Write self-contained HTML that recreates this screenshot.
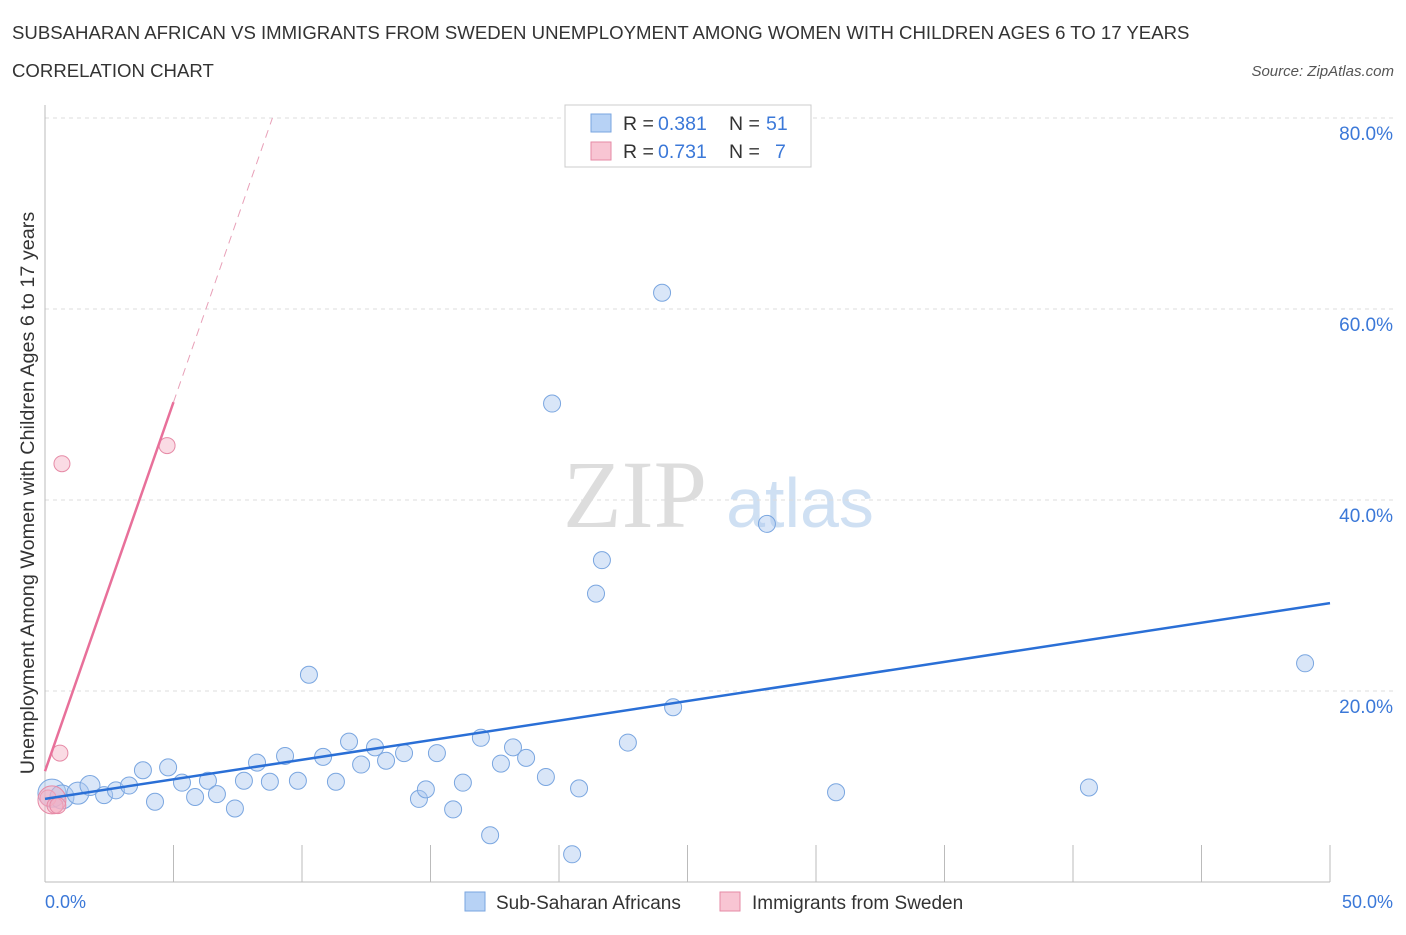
<!DOCTYPE html>
<html><head><meta charset="utf-8"><style>
body{margin:0;background:#fff;font-family:"Liberation Sans",sans-serif;}
</style></head><body>
<svg width="1406" height="930" xmlns="http://www.w3.org/2000/svg">
<text x="12" y="39" font-size="18.6" fill="#333">SUBSAHARAN AFRICAN VS IMMIGRANTS FROM SWEDEN UNEMPLOYMENT AMONG WOMEN WITH CHILDREN AGES 6 TO 17 YEARS</text>
<text x="12" y="77" font-size="18.6" fill="#333">CORRELATION CHART</text>
<text x="1394" y="76" font-size="15" fill="#555" font-style="italic" text-anchor="end">Source: ZipAtlas.com</text>
<text x="635" y="527" font-size="96" fill="#ddd" font-family="Liberation Serif,serif" text-anchor="middle">ZIP</text>
<text x="800" y="527" font-size="70" fill="#cfe0f3" text-anchor="middle">atlas</text>
<g id="grid"></g>
<g id="axes"></g>
<g id="marks"></g>
<text transform="translate(34,493) rotate(-90)" font-size="19.8" fill="#333" text-anchor="middle">Unemployment Among Women with Children Ages 6 to 17 years</text>
<text x="45" y="908" font-size="18" fill="#3b78d8">0.0%</text>
<text x="1393" y="908" font-size="18" fill="#3b78d8" text-anchor="end">50.0%</text>
<g>
<rect x="565" y="105" width="246" height="62" fill="#fff" stroke="#ccc"/>
<rect x="591" y="114" width="20" height="18" fill="#b7d2f5" stroke="#7aa6e0"/>
<text x="623" y="130" font-size="19.5" fill="#333">R = </text><text x="658" y="130" font-size="19.5" fill="#3b78d8">0.381</text>
<text x="729" y="130" font-size="19.5" fill="#333">N = </text><text x="766" y="130" font-size="19.5" fill="#3b78d8">51</text>
<rect x="591" y="142" width="20" height="18" fill="#f8c5d3" stroke="#e68aa6"/>
<text x="623" y="158" font-size="19.5" fill="#333">R = </text><text x="658" y="158" font-size="19.5" fill="#3b78d8">0.731</text>
<text x="729" y="158" font-size="19.5" fill="#333">N = </text><text x="775" y="158" font-size="19.5" fill="#3b78d8">7</text>
</g>
<g>
<rect x="465" y="892" width="20" height="19" fill="#b7d2f5" stroke="#7aa6e0"/>
<text x="496" y="909" font-size="19" fill="#333">Sub-Saharan Africans</text>
<rect x="720" y="892" width="20" height="19" fill="#f8c5d3" stroke="#e68aa6"/>
<text x="752" y="909" font-size="19" fill="#333">Immigrants from Sweden</text>
</g>
</svg>
<script>
const yTicks=[20,40,60,80];
const blueX=[0.27,0.66,1.28,1.75,2.30,2.76,3.27,3.81,4.28,4.79,5.33,5.84,6.34,6.69,7.39,7.74,8.25,8.75,9.34,9.84,10.27,10.82,11.32,11.83,12.30,12.84,13.27,13.97,14.55,14.82,15.25,15.88,16.26,16.96,17.32,17.74,18.21,18.72,19.49,19.73,20.51,20.78,21.44,21.67,22.68,24.01,24.44,28.09,30.78,40.62,49.03];
const blueY=[9.3,8.9,9.3,10.1,9.1,9.6,10.1,11.7,8.4,12.0,10.4,8.9,10.6,9.2,7.7,10.6,12.5,10.5,13.2,10.6,21.7,13.1,10.5,14.7,12.3,14.1,12.7,13.5,8.7,9.7,13.5,7.6,10.4,15.1,4.9,12.4,14.1,13.0,11.0,50.1,2.9,9.8,30.2,33.7,14.6,61.7,18.3,37.5,9.4,9.9,22.9];
const pinkX=[0.12,0.27,0.39,0.5,0.66,0.58,4.75];
const pinkY=[8.8,8.6,8.0,8.0,43.8,13.5,45.7];
const blueTrend=[8.7,0.41];
const pinkTrend=[11.6,7.73];
const X=v=>45+v*25.7, Y=v=>882-v*9.55;
const NS="http://www.w3.org/2000/svg";
function mk(p,t,a){const e=document.createElementNS(NS,t);for(const k in a)e.setAttribute(k,a[k]);p.appendChild(e);return e;}
const grid=document.getElementById('grid'),axes=document.getElementById('axes'),marks=document.getElementById('marks');
yTicks.forEach(t=>{
 const l=mk(grid,'line',{x1:45,x2:1395,y1:Y(t),y2:Y(t),stroke:'#ddd','stroke-dasharray':'4,4'});
 
 
 const tx=mk(grid,'text',{x:1393,y:Y(t)+22,'font-size':19,fill:'#3b78d8','text-anchor':'end'});
 tx.textContent=t.toFixed(1)+'%';
 
 
});
mk(axes,'line',{x1:45,x2:45,y1:105,y2:882,stroke:'#bbb'});
mk(axes,'line',{x1:45,x2:1330,y1:882,y2:882,stroke:'#bbb'});
for(let i=0;i<=10;i++){const t=mk(axes,'line',{x1:X(i*5),x2:X(i*5),y1:845,y2:882,stroke:'#bbb'});
 
 }
blueX.forEach((x,i)=>{const r=i==0?14:i==1?12:i==2?11:i==3?10:8.5;
 const c=mk(marks,'circle',{cx:X(x),cy:Y(blueY[i]),r:r,fill:'rgba(170,200,240,0.45)',stroke:'#7aa6e0'});
 
 });
pinkX.forEach((x,i)=>{const r=i==1?14:8;
 const c=mk(marks,'circle',{cx:X(x),cy:Y(pinkY[i]),r:r,fill:'rgba(245,175,195,0.45)',stroke:'#e68aa6'});
 
 });
const bl=mk(marks,'line',{x1:X(0),y1:Y(blueTrend[0]),x2:X(50),y2:Y(blueTrend[0]+50*blueTrend[1]),stroke:'#2a6fd6','stroke-width':2.5});


const pl=mk(marks,'line',{x1:X(0),y1:Y(pinkTrend[0]),x2:X(5),y2:Y(pinkTrend[0]+5*pinkTrend[1]),stroke:'#e8709a','stroke-width':2.5});


const xe=(80-pinkTrend[0])/pinkTrend[1];
const pd=mk(marks,'line',{x1:X(5),y1:Y(pinkTrend[0]+5*pinkTrend[1]),x2:X(xe),y2:Y(80),stroke:'#e8a0b8','stroke-width':1,'stroke-dasharray':'8,6'});


</script>
</body></html>
